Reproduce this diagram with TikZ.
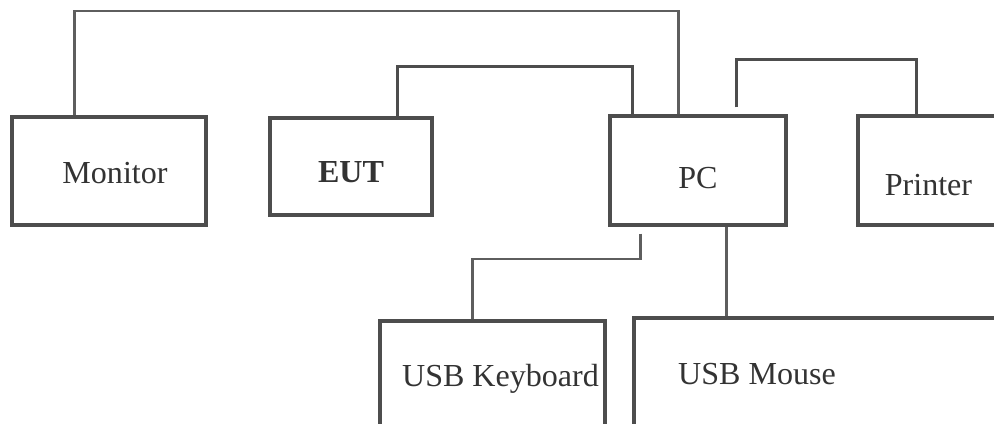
\documentclass[tikz,border=0pt]{standalone}
\usepackage{fontspec}
\setmainfont{Liberation Serif}
\definecolor{boxgray}{HTML}{4D4D4D}
\definecolor{wiregray}{HTML}{5E5E5E}
\begin{document}
\begin{tikzpicture}[x=0.025cm,y=-0.025cm,font=\fontsize{22.8}{26}\selectfont,
  unit/.style={draw=boxgray,line width=2.2pt,rectangle,inner sep=0pt},
  cable/.style={draw=wiregray,line width=1.5pt},
  heavy/.style={draw=boxgray,line width=2.1pt}]
\useasboundingbox (0,0) rectangle (994,423);
\clip (0,0) rectangle (994,423);
\node[unit,minimum width=4.85cm,minimum height=2.7cm,
  label={[xshift=0.15cm,yshift=-0.04cm,text=black!80]center:Monitor}] (monitor) at (109,171) {};
\node[unit,minimum width=4.05cm,minimum height=2.425cm,
  label={[yshift=-0.15cm,text=black!80]center:\textbf{EUT}}] (eut) at (351,166.5) {};
\node[unit,minimum width=4.4cm,minimum height=2.725cm,
  label={[yshift=-0.2cm,text=black!80]center:PC}] (pc) at (698,170.5) {};
\node[unit,minimum width=3.525cm,minimum height=2.725cm,
  label={[yshift=-0.375cm,text=black!80]center:Printer}] (printer) at (928.5,170.5) {};
\node[unit,minimum width=5.625cm,minimum height=2.975cm,
  label={[xshift=0.2cm,yshift=0.04cm,text=black!80]center:USB Keyboard}] (kbd) at (492.5,380.5) {};
\node[unit,minimum width=9.15cm,minimum height=3.05cm,
  label={[xshift=-1.5cm,yshift=0.125cm,text=black!80]center:USB Mouse}] (mouse) at (817,379) {};
\draw[cable] ([xshift=1.6cm]monitor.north west) -- ++(0,-104) -| ([xshift=1.75cm]pc.north west);
\draw[heavy] ([xshift=3.225cm]eut.north west) -- ++(0,-50) -| ([xshift=0.6cm]pc.north west);
\draw[heavy] ([xshift=3.2cm,yshift=0.175cm]pc.north west) -- ++(0,-48) -| ([xshift=1.5cm]printer.north west);
\draw[cable] ([xshift=0.8cm,yshift=-0.175cm]pc.south west) -- ++(0,25) -| ([xshift=2.35cm]kbd.north west);
\draw[cable] ([xshift=2.95cm]pc.south west) -- ([xshift=2.95cm]pc.south west |- mouse.north);
\end{tikzpicture}
\end{document}
